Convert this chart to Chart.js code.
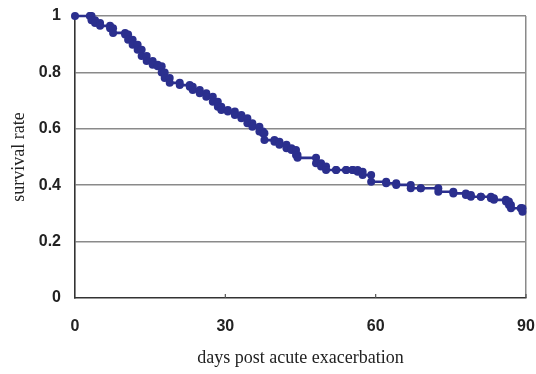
<!DOCTYPE html>
<html>
<head>
<meta charset="utf-8">
<script src="https://cdn.jsdelivr.net/npm/chart.js@4/dist/chart.umd.min.js"></script>
<style>
  html, body { margin: 0; padding: 0; background: #fff; }
  #wrap { width: 536px; height: 374px; position: relative; }
</style>
</head>
<body>
<div id="wrap"><canvas id="c" width="536" height="374"></canvas></div>
<script>
// Event times (days) and survival after each event
const days = [0, 3, 3.3, 4, 5, 7, 7.6, 10, 10.6, 11.5,
  12.5, 13.3, 14.3, 15.5, 16.5, 17.3, 17.9, 18.9, 20.9, 22.9,
  23.5, 24.9, 26.2, 27.5, 28.5, 29.2, 30.5, 31.9, 33.2, 34.4,
  35.4, 36.8, 37.5, 37.8, 39.8, 40.8, 42.2, 43.2, 44.1, 44.4,
  48.1, 49.1, 50.1, 52.1, 54.1, 55.4, 56.4, 57.4, 59.1, 62.1,
  64.1, 67.0, 69.0, 72.5, 75.5, 78.0, 79.0, 81.0, 83.0, 83.6,
  86.0, 86.6, 87.0, 89.0, 89.3];
const survival = [1, 1, 0.985, 0.975, 0.965, 0.957, 0.94, 0.934, 0.916, 0.898,
  0.88, 0.858, 0.84, 0.827, 0.822, 0.80, 0.78, 0.763, 0.755, 0.749,
  0.738, 0.726, 0.714, 0.696, 0.678, 0.667, 0.661, 0.649, 0.637, 0.62,
  0.607, 0.59, 0.584, 0.56, 0.554, 0.543, 0.531, 0.525, 0.507, 0.497,
  0.478, 0.466, 0.454, 0.454, 0.454, 0.454, 0.448, 0.436, 0.412, 0.407,
  0.401, 0.389, 0.389, 0.377, 0.371, 0.365, 0.359, 0.359, 0.354, 0.348,
  0.342, 0.33, 0.318, 0.318, 0.306];
const xTicks = [0, 30, 60, 90];
const yTicks = [0, 0.2, 0.4, 0.6, 0.8, 1];
const xTitle = 'days post acute exacerbation';
const yTitle = 'survival rate';

// Build Kaplan-Meier style step points: (t, previous S) then (t, new S)
const pts = [];
for (let i = 0; i < days.length; i++) {
  if (i > 0) pts.push({ x: days[i], y: survival[i - 1] });
  pts.push({ x: days[i], y: survival[i] });
}

const LINE = '#2b2f8e';
const sans = "'Liberation Sans', Arial, sans-serif";
const serif = "'Liberation Serif', 'Times New Roman', serif";

const innerTicks = {
  id: 'innerTicks',
  afterDraw(chart) {
    const { ctx, scales: { x }, chartArea } = chart;
    ctx.save();
    ctx.strokeStyle = '#555';
    ctx.lineWidth = 1.2;
    xTicks.forEach(v => {
      if (v === 0) return;
      const px = x.getPixelForValue(v);
      ctx.beginPath();
      ctx.moveTo(px, chartArea.bottom);
      ctx.lineTo(px, chartArea.bottom - 4);
      ctx.stroke();
    });
    ctx.restore();
  }
};

new Chart(document.getElementById('c'), {
  type: 'scatter',
  data: {
    datasets: [{
      data: pts,
      showLine: true,
      borderColor: LINE,
      backgroundColor: LINE,
      borderWidth: 2.6,
      pointRadius: 4,
      pointBorderWidth: 0,
      pointHoverRadius: 4,
      clip: false
    }]
  },
  options: {
    responsive: false,
    animation: false,
    layout: { padding: { left: 0, right: 10, top: 16, bottom: 0 } },
    plugins: { legend: { display: false }, tooltip: { enabled: false } },
    scales: {
      x: {
        type: 'linear',
        min: 0, max: 90,
        afterBuildTicks(axis) { axis.ticks = xTicks.map(v => ({ value: v })); },
        afterFit(axis) { axis.height = 76; axis.paddingLeft = 0; axis.paddingRight = 0; },
        grid: {
          drawTicks: false,
          lineWidth: 1.5,
          color: ctx => (ctx.tick && ctx.tick.value === 90) ? '#8a8a8a' : 'rgba(0,0,0,0)'
        },
        border: { display: true, color: '#333', width: 1.6 },
        ticks: {
          padding: 19,
          color: '#222',
          font: { family: sans, size: 16, weight: 'bold' },
          maxRotation: 0
        },
        title: {
          display: true,
          text: xTitle,
          color: '#222',
          font: { family: serif, size: 18 },
          padding: { top: 0, bottom: 5 }
        }
      },
      y: {
        type: 'linear',
        min: 0, max: 1,
        afterBuildTicks(axis) { axis.ticks = yTicks.map(v => ({ value: v })); },
        afterFit(axis) { axis.width = 75; axis.paddingTop = 0; axis.paddingBottom = 0; },
        grid: {
          drawTicks: false,
          lineWidth: 1.5,
          color: ctx => (ctx.tick && ctx.tick.value === 0) ? 'rgba(0,0,0,0)' : '#8a8a8a'
        },
        border: { display: true, color: '#333', width: 1.6 },
        ticks: {
          padding: 14,
          color: '#222',
          font: { family: sans, size: 16, weight: 'bold' },
          callback: v => String(v)
        },
        title: {
          display: true,
          text: yTitle,
          color: '#222',
          font: { family: serif, size: 18 },
          padding: { top: 8, bottom: 0 }
        }
      }
    }
  },
  plugins: [innerTicks]
});
</script>
</body>
</html>
